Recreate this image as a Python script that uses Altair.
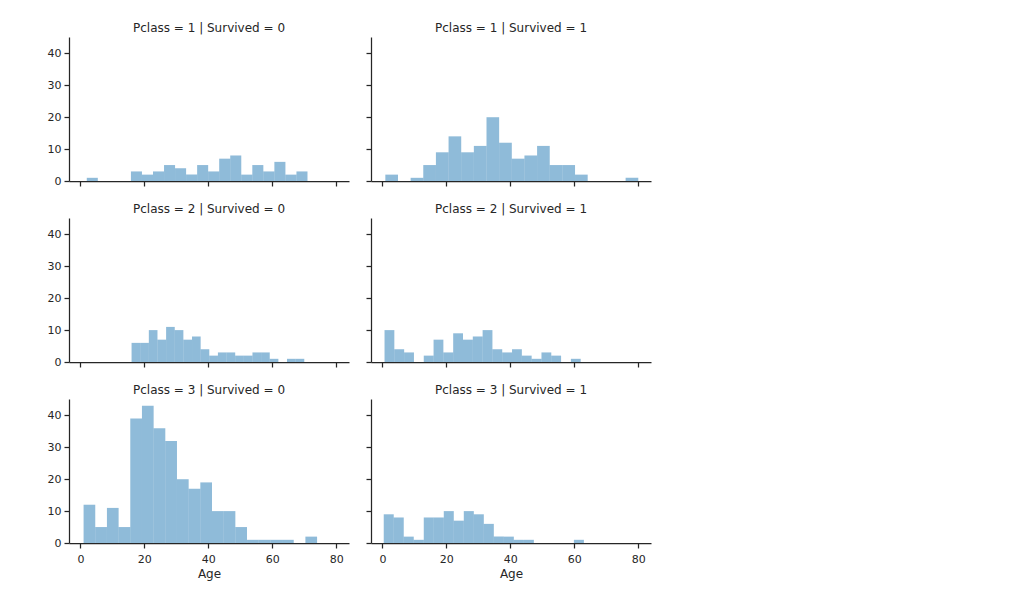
import altair as alt
import numpy as np
import pandas as pd

# Facet titles
panel_titles = [
    "Pclass = 1 | Survived = 0", "Pclass = 1 | Survived = 1",
    "Pclass = 2 | Survived = 0", "Pclass = 2 | Survived = 1",
    "Pclass = 3 | Survived = 0", "Pclass = 3 | Survived = 1",
]
# Age range of each facet (histogram spans min..max in 20 bins)
age_min = [2.0, 0.92, 16.0, 0.67, 1.0, 0.42]
age_max = [71.0, 80.0, 70.0, 62.0, 74.0, 63.0]

# Counts per bin (20 bins)
counts_p1_s0 = [1, 0, 0, 0, 3, 2, 3, 5, 4, 2, 5, 3, 7, 8, 2, 5, 3, 6, 2, 3]
counts_p1_s1 = [2, 0, 1, 5, 9, 14, 9, 11, 20, 12, 7, 8, 11, 5, 5, 2, 0, 0, 0, 1]
counts_p2_s0 = [6, 6, 10, 7, 11, 10, 7, 8, 4, 2, 3, 3, 2, 2, 3, 3, 1, 0, 1, 1]
counts_p2_s1 = [10, 4, 3, 0, 2, 7, 3, 9, 7, 8, 10, 4, 3, 4, 2, 1, 3, 2, 0, 1]
counts_p3_s0 = [12, 5, 11, 5, 39, 43, 36, 32, 20, 17, 19, 10, 10, 5, 1, 1, 1, 1, 0, 2]
counts_p3_s1 = [9, 8, 2, 1, 8, 8, 10, 7, 10, 9, 6, 2, 2, 1, 1, 0, 0, 0, 0, 1]
all_counts = [counts_p1_s0, counts_p1_s1, counts_p2_s0,
              counts_p2_s1, counts_p3_s0, counts_p3_s1]

x_ticks = [0, 20, 40, 60, 80]
y_ticks = [0, 10, 20, 30, 40]

rows = []
for i, (title, lo, hi, cnts) in enumerate(zip(panel_titles, age_min, age_max, all_counts)):
    edges = np.linspace(lo, hi, len(cnts) + 1)
    for j, c in enumerate(cnts):
        if c > 0:
            rows.append({"panel": i, "x0": edges[j], "x1": edges[j + 1], "count": c})
df = pd.DataFrame(rows)

FONT = "DejaVu Sans"
TXT = "#262626"
W, H = 280, 144


def panel(i):
    col = i % 2
    row = i // 2
    bottom = row == 2
    left = col == 0
    xaxis = alt.Axis(values=x_ticks, labels=bottom, title="Age" if bottom else None,
                     grid=False, tickSize=5, labelPadding=5, titlePadding=4)
    yaxis = alt.Axis(values=y_ticks, labels=left, title=None, grid=False,
                     tickSize=5, labelPadding=3)
    return (
        alt.Chart(df)
        .transform_filter(alt.datum.panel == i)
        .mark_rect(color="#1f77b4", opacity=0.5)
        .encode(
            x=alt.X("x0:Q", scale=alt.Scale(domain=[-3.56, 83.98], nice=False, zero=False), axis=xaxis),
            x2="x1:Q",
            y=alt.Y("count:Q", scale=alt.Scale(domain=[0, 45.15], nice=False), axis=yaxis),
            y2=alt.datum(0),
        )
        .properties(width=W, height=H,
                    title=alt.TitleParams(panel_titles[i], fontSize=12, fontWeight="normal",
                                          font=FONT, color=TXT, anchor="middle", offset=2))
    )


chart = (
    alt.concat(*[panel(i) for i in range(6)], columns=2,
               spacing=alt.RowColnumber(row=37, column=22), bounds="flush")
    .properties(padding={"left": 38, "top": 13, "right": 5, "bottom": 5}, background="white")
    .configure_view(stroke="transparent")
    .configure_axis(
        domainColor=TXT, tickColor=TXT, domainWidth=1.25, tickWidth=1.25,
        labelFont=FONT, labelFontSize=11, labelColor=TXT,
        titleFont=FONT, titleFontSize=12, titleFontWeight="normal", titleColor=TXT,
    )
)

chart.save("out.html", embed_options={"renderer": "svg", "actions": False})
